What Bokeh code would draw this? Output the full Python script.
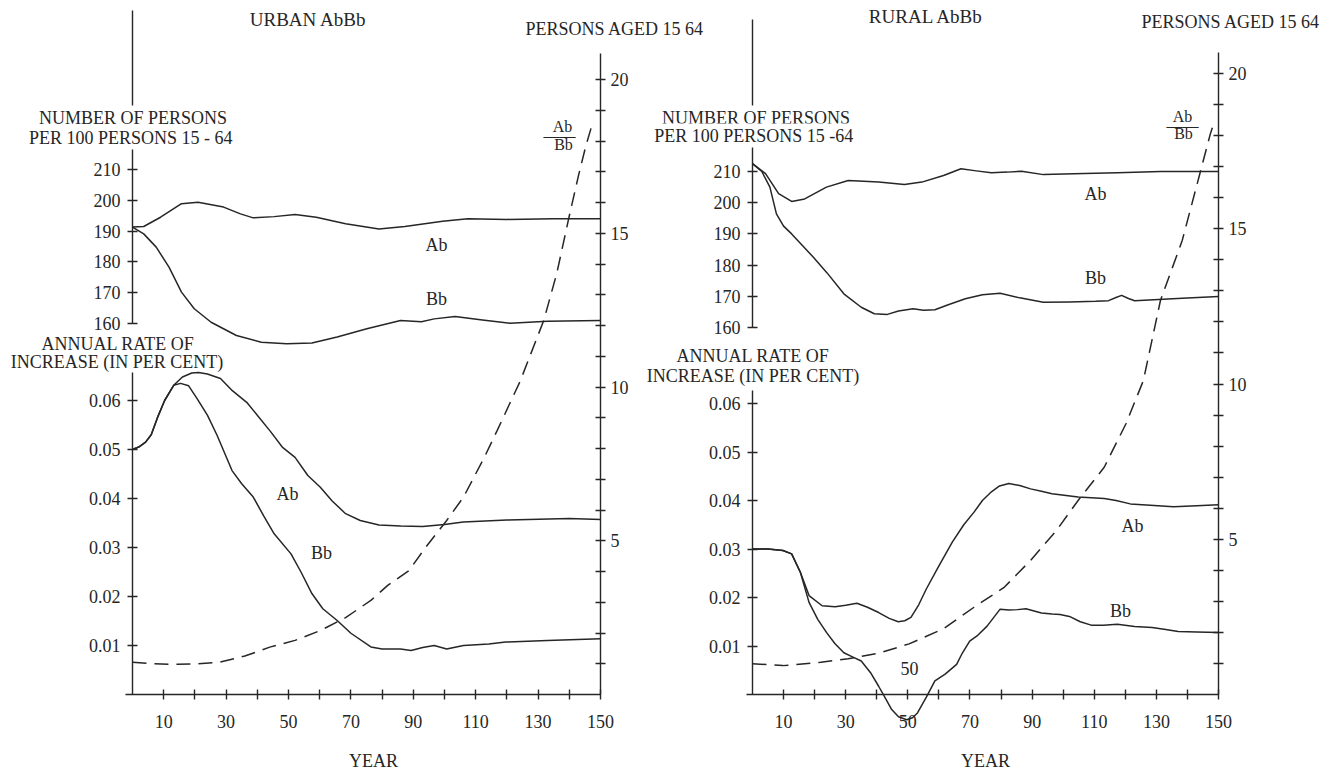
from bokeh.plotting import figure
from bokeh.models import Range1d, LinearAxis, FixedTicker, Label, PrintfTickFormatter, Grid
from bokeh.embed import file_html
from bokeh.resources import INLINE

# ---------------- DATA ----------------
# URBAN panel --------------------------------------------------
urban_pop_ab_year = [0, 3.6, 9, 15.7, 21, 29.2, 34.6, 38.7, 45.4, 52.1, 58.9, 68.3, 79, 87.3, 99.4, 107.5, 120, 135, 150]
urban_pop_ab = [191.3, 191.5, 194.5, 198.9, 199.4, 197.8, 195.6, 194.3, 194.7, 195.4, 194.5, 192.4, 190.7, 191.5, 193.2, 194.0, 193.8, 194.0, 194.0]

urban_pop_bb_year = [0, 3.6, 7.6, 11.7, 15.7, 19.8, 25.2, 33.3, 41.3, 49.4, 57.5, 65.6, 75.1, 85.9, 92.6, 96.7, 103.4, 111.5, 121, 133, 150]
urban_pop_bb = [191.3, 189.1, 184.8, 178.3, 170.2, 164.8, 160.4, 156.1, 153.9, 153.4, 153.7, 155.6, 158.3, 161.0, 160.6, 161.5, 162.3, 161.2, 160.1, 160.7, 161.0]

urban_rate_ab_year = [0, 2, 4.2, 6, 8, 10.3, 13.2, 16, 19, 21.2, 24, 28.2, 32, 36.8, 40, 44.2, 48, 52.1, 56.2, 60.2, 64, 68.3, 73, 79, 86, 93, 100, 106, 120, 140, 150]
urban_rate_ab = [0.0500, 0.0505, 0.0515, 0.0530, 0.0565, 0.0600, 0.0631, 0.0648, 0.0656, 0.0657, 0.0654, 0.0645, 0.0620, 0.0595, 0.0570, 0.0537, 0.0505, 0.0484, 0.0447, 0.0423, 0.0395, 0.0369, 0.0355, 0.0346, 0.0344, 0.0343, 0.0347, 0.0352, 0.0356, 0.0359, 0.0357]

urban_rate_bb_year = [0, 2, 4.2, 6, 8, 10.3, 13.2, 15.4, 18, 20.7, 24, 27.1, 31.9, 35, 38.7, 42, 45.4, 50.8, 54, 57.5, 61, 65.6, 70, 76.4, 80, 85.9, 89.3, 93, 96.7, 100.7, 106.1, 114.2, 119.6, 133, 150]
urban_rate_bb = [0.0500, 0.0505, 0.0515, 0.0530, 0.0565, 0.0600, 0.0631, 0.0635, 0.0630, 0.0604, 0.0570, 0.0529, 0.0457, 0.0430, 0.0403, 0.0365, 0.0328, 0.0287, 0.0250, 0.0206, 0.0175, 0.0151, 0.0125, 0.0097, 0.0093, 0.0093, 0.0090, 0.0096, 0.0100, 0.0093, 0.0100, 0.0103, 0.0107, 0.0110, 0.0114]

urban_ratio_year = [0, 7, 14.4, 21, 27.9, 36, 44, 52.1, 60.2, 68.3, 76.4, 81.8, 88.6, 94, 100.7, 106.1, 112.8, 116.9, 124.3, 131.8, 136, 139.9, 143, 145.2, 147.5]
urban_ratio = [1.05, 1.00, 0.98, 1.00, 1.05, 1.25, 1.54, 1.76, 2.08, 2.50, 3.06, 3.55, 4.03, 4.79, 5.66, 6.42, 7.72, 8.59, 10.2, 12.16, 13.7, 15.52, 16.9, 17.8, 18.6]

# RURAL panel --------------------------------------------------
rural_pop_ab_year = [0, 4.2, 8.4, 12.6, 16.8, 23.8, 30.8, 40.6, 48.9, 54.5, 61.5, 67.1, 72, 76.9, 82, 86.6, 93.6, 103.4, 117.4, 131.4, 150]
rural_pop_ab = [212.5, 209.3, 202.9, 200.4, 201.2, 205.0, 207.1, 206.6, 205.8, 206.6, 208.7, 210.9, 210.2, 209.6, 209.8, 210.1, 209.0, 209.3, 209.6, 210.0, 210.0]

rural_pop_bb_year = [0, 3, 5.6, 7.7, 10, 12.6, 19.6, 24, 29.4, 35, 39.2, 43.4, 47, 51.7, 55, 58.7, 63, 68.5, 74, 79.7, 86, 93.6, 102, 110.4, 114.6, 117, 118.8, 121, 123, 138.3, 150]
rural_pop_bb = [212.5, 210.0, 205.0, 196.4, 192.5, 190.0, 182.5, 177.5, 170.8, 166.5, 164.4, 164.2, 165.3, 166.0, 165.5, 165.7, 167.3, 169.2, 170.5, 171.0, 169.5, 168.1, 168.2, 168.4, 168.6, 169.6, 170.3, 169.3, 168.6, 169.4, 169.9]

rural_rate_ab_year = [0, 5, 9.8, 12.6, 15.4, 18.2, 22.4, 26.6, 30, 33.6, 37, 40.6, 44, 46.9, 49, 51, 53.5, 55.9, 60, 64.3, 68, 71.3, 74, 76.9, 79.5, 82.5, 86, 89.5, 93, 96.4, 104.8, 113.2, 117, 121.6, 128, 135.5, 143, 150]
rural_rate_ab = [0.0300, 0.0300, 0.0297, 0.0290, 0.0252, 0.0204, 0.0183, 0.0181, 0.0184, 0.0188, 0.0180, 0.0169, 0.0157, 0.0150, 0.0152, 0.0159, 0.0185, 0.0217, 0.0265, 0.0314, 0.0350, 0.0376, 0.0400, 0.0418, 0.0430, 0.0435, 0.0431, 0.0424, 0.0419, 0.0414, 0.0407, 0.0404, 0.0400, 0.0393, 0.0390, 0.0387, 0.0389, 0.0391]

rural_rate_bb_year = [0, 5, 9.8, 12.6, 15.4, 18.2, 21, 23.8, 26.5, 29.4, 32, 35, 38, 40.6, 42.8, 44.8, 47, 49.6, 51.5, 53.1, 56, 58.7, 62, 65.7, 67.5, 69.9, 72.5, 75.5, 79.7, 82.5, 85.3, 88, 93, 96.4, 99, 102, 105.5, 109, 113, 117.4, 123, 128.6, 133, 137, 143, 150]
rural_rate_bb = [0.0300, 0.0300, 0.0297, 0.0290, 0.0252, 0.0190, 0.0155, 0.0128, 0.0105, 0.0086, 0.0078, 0.0069, 0.0045, 0.0017, -0.0008, -0.0031, -0.0046, -0.0052, -0.0048, -0.0038, -0.0005, 0.0028, 0.0042, 0.0062, 0.0085, 0.0110, 0.0122, 0.0141, 0.0176, 0.0174, 0.0175, 0.0177, 0.0168, 0.0166, 0.0165, 0.0161, 0.0150, 0.0143, 0.0143, 0.0145, 0.0140, 0.0138, 0.0134, 0.0130, 0.0129, 0.0128]

rural_ratio_year = [0, 9.8, 22, 30.8, 40.6, 50.4, 61.5, 71.3, 81.1, 89.5, 97.8, 104.8, 113.2, 120.2, 125.8, 131.3, 138.3, 144, 147.4, 148.5]
rural_ratio = [0.99, 0.93, 1.04, 1.15, 1.33, 1.63, 2.12, 2.81, 3.46, 4.32, 5.28, 6.25, 7.32, 8.72, 10.11, 12.69, 14.62, 16.78, 18.07, 18.39]

# axis ticks and labels
pop_ticks = [160, 170, 180, 190, 200, 210]
rate_ticks = [0.01, 0.02, 0.03, 0.04, 0.05, 0.06]
ratio_major_ticks = [5, 10, 15, 20]
ratio_minor_ticks = [1, 2, 3, 4, 6, 7, 8, 9, 11, 12, 13, 14, 16, 17, 18, 19]
year_major_ticks = [10, 30, 50, 70, 90, 110, 130, 150]
year_minor_ticks = [20, 40, 60, 80, 100, 120, 140]

# ---------------- LAYOUT (picture pixel geometry) ----------------
X0, X1, Y0, Y1 = 0, 1333, 0, 772
INK = "#262626"
SERIF = "Liberation Serif"


def x_range_from(p0, k, v0=0.0):
    return Range1d(start=v0 + (X0 - p0) / k, end=v0 + (X1 - p0) / k)


def y_range_from(p0, k, v0=0.0):
    return Range1d(start=v0 - (Y1 - p0) / k, end=v0 + (p0 - Y0) / k)


p = figure(width=X1 - X0, height=Y1 - Y0,
           x_range=Range1d(X0, X1), y_range=Range1d(Y1, Y0),
           x_axis_location=None, y_axis_location=None,
           toolbar_location=None, output_backend="svg",
           min_border=0, outline_line_color=None,
           background_fill_color="white", border_fill_color="white")
for r in list(p.center):
    if isinstance(r, Grid):
        r.visible = False

panels = {
    "u": dict(x=(132, 3.12), R=(694, 30.75), P=(323, 3.08), rate=(694, 4900.0),
              x_bounds=(-2.24, 150), P_top=160 + (323 - 10) / 3.08,
              rate_top=(694 - 372) / 4900.0, R_top=(694 - 53) / 30.75),
    "r": dict(x=(752, 3.107), R=(694, 31.05), P=(327, 3.12), rate=(694, 4850.0),
              x_bounds=(-1.8, 150), P_top=160 + (327 - 19) / 3.12,
              rate_top=(694 - 390) / 4850.0, R_top=(694 - 52) / 31.05),
}

for key, g in panels.items():
    p.extra_x_ranges["x" + key] = x_range_from(*g["x"])
    p.extra_y_ranges["R" + key] = y_range_from(*g["R"])
    p.extra_y_ranges["P" + key] = y_range_from(g["P"][0], g["P"][1], 160.0)
    p.extra_y_ranges["rate" + key] = y_range_from(*g["rate"])


def style(ax, standoff):
    ax.axis_line_color = INK
    ax.axis_line_width = 1.4
    ax.major_tick_line_color = INK
    ax.major_tick_line_width = 1.4
    ax.minor_tick_line_color = INK
    ax.minor_tick_line_width = 1.4
    ax.major_tick_in = 5
    ax.major_tick_out = 5
    ax.minor_tick_in = 5
    ax.minor_tick_out = 5
    ax.major_label_text_font = SERIF
    ax.major_label_text_font_size = "18px"
    ax.major_label_text_color = INK
    ax.major_label_standoff = standoff


for key, g in panels.items():
    xn = "x" + key
    # population scale (upper left)
    ax = LinearAxis(x_range_name=xn, y_range_name="P" + key, fixed_location=0,
                    bounds=(160, g["P_top"]), ticker=FixedTicker(ticks=pop_ticks),
                    formatter=PrintfTickFormatter(format="%d"))
    style(ax, 7)
    p.add_layout(ax, "left")
    # rate scale (lower left)
    ax = LinearAxis(x_range_name=xn, y_range_name="rate" + key, fixed_location=0,
                    bounds=(0, g["rate_top"]), ticker=FixedTicker(ticks=rate_ticks),
                    formatter=PrintfTickFormatter(format="%.2f"))
    style(ax, 7)
    p.add_layout(ax, "left")
    # ratio scale (right)
    ax = LinearAxis(x_range_name=xn, y_range_name="R" + key, fixed_location=150,
                    bounds=(0, g["R_top"]),
                    ticker=FixedTicker(ticks=ratio_major_ticks, minor_ticks=ratio_minor_ticks),
                    formatter=PrintfTickFormatter(format="%d"))
    style(ax, 5)
    p.add_layout(ax, "right")
    # year axis
    ax = LinearAxis(x_range_name=xn, y_range_name="R" + key, fixed_location=0,
                    bounds=g["x_bounds"],
                    ticker=FixedTicker(ticks=year_major_ticks, minor_ticks=year_minor_ticks),
                    formatter=PrintfTickFormatter(format="%d"))
    style(ax, 15)
    p.add_layout(ax, "below")

# ---------------- CURVES ----------------
solid = dict(line_color=INK, line_width=1.5, line_join="round")
p.line(urban_pop_ab_year, urban_pop_ab, x_range_name="xu", y_range_name="Pu", **solid)
p.line(urban_pop_bb_year, urban_pop_bb, x_range_name="xu", y_range_name="Pu", **solid)
p.line(urban_rate_ab_year, urban_rate_ab, x_range_name="xu", y_range_name="rateu", **solid)
p.line(urban_rate_bb_year, urban_rate_bb, x_range_name="xu", y_range_name="rateu", **solid)
p.line(urban_ratio_year, urban_ratio, x_range_name="xu", y_range_name="Ru",
       line_color=INK, line_width=1.5, line_dash="14 8")

p.line(rural_pop_ab_year, rural_pop_ab, x_range_name="xr", y_range_name="Pr", **solid)
p.line(rural_pop_bb_year, rural_pop_bb, x_range_name="xr", y_range_name="Pr", **solid)
p.line(rural_rate_ab_year, rural_rate_ab, x_range_name="xr", y_range_name="rater", **solid)
p.line(rural_rate_bb_year, rural_rate_bb, x_range_name="xr", y_range_name="rater", **solid)
p.line(rural_ratio_year, rural_ratio, x_range_name="xr", y_range_name="Rr",
       line_color=INK, line_width=1.5, line_dash="14 8")

# ---------------- TEXTS (positions in picture pixels) ----------------


def txt(x, y, s, size="18px", align="center", bg=None):
    lab = Label(x=x, y=y, text=s, text_font=SERIF, text_font_size=size,
                text_color=INK, text_align=align, text_baseline="middle")
    if bg:
        lab.background_fill_color = bg
        lab.padding = 2
    p.add_layout(lab)


# urban
txt(310, 19, "URBAN  AbBb", size="19px")
txt(525, 28, "PERSONS  AGED  15 64", align="left")
txt(137, 117, "NUMBER  OF  PERSONS", bg="white")
txt(137, 137, "PER  100  PERSONS  15 - 64", bg="white")
txt(122, 343, "ANNUAL  RATE  OF")
txt(121, 361, "INCREASE  (IN  PER CENT)")
txt(436, 244, "Ab")
txt(436, 298, "Bb")
txt(287, 493, "Ab")
txt(321, 552, "Bb")
txt(562, 126, "Ab", size="16px")
txt(559, 135, "——", size="16px")
txt(563, 144, "Bb", size="16px")
txt(373, 760, "YEAR")

# rural
txt(928, 16, "RURAL  AbBb", size="19px")
txt(1141, 21, "PERSONS  AGED  15 64", align="left")
txt(760, 117, "NUMBER  OF  PERSONS", bg="white")
txt(760, 135, "PER  100  PERSONS  15 -64", bg="white")
txt(757, 355, "ANNUAL  RATE  OF")
txt(757, 375, "INCREASE  (IN  PER CENT)")
txt(1095, 193, "Ab")
txt(1095, 277, "Bb")
txt(1132, 525, "Ab")
txt(1120, 610, "Bb")
txt(909, 668, "50")
txt(1182, 116, "Ab", size="16px")
txt(1182, 125, "——", size="16px")
txt(1183, 133, "Bb", size="16px")
txt(985, 760, "YEAR")

open("out.html", "w").write(file_html(p, INLINE))
